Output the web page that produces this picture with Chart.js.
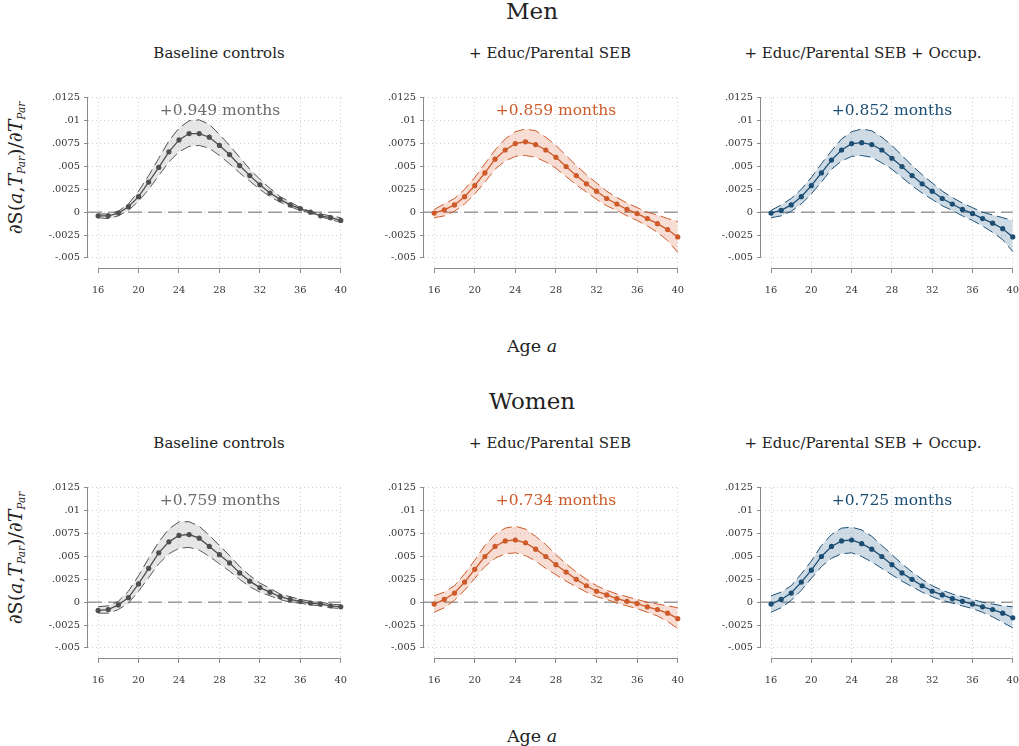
<!DOCTYPE html>
<html>
<head>
<meta charset="utf-8">
<script src="https://cdn.jsdelivr.net/npm/chart.js@4.4.0/dist/chart.umd.min.js"></script>
<style>
body { margin: 0; background: #fff; }
#wrap { position: relative; width: 1019px; height: 746px; overflow: hidden; font-family: "DejaVu Serif", "Liberation Serif", serif; color: #222; }
.t { position: absolute; white-space: nowrap; transform: translate(-50%, -50%); }
.box { position: absolute; }
.ytitle { position: absolute; white-space: nowrap; font-size: 19px; transform: translate(-50%, -50%) rotate(-90deg); }
.ytitle sub { font-size: 10.5px; font-style: italic; vertical-align: -3px; }
</style>
</head>
<body>
<div id="wrap"></div>
<script>
// ages on the x axis
const ages = [16,17,18,19,20,21,22,23,24,25,26,27,28,29,30,31,32,33,34,35,36,37,38,39,40];
const xTicks = [16,20,24,28,32,36,40];
const yTicks = [-0.005,-0.0025,0,0.0025,0.005,0.0075,0.01,0.0125];
const yTickLabels = ['-.005','-.0025','0','.0025','.005','.0075','.01','.0125'];

const rowTitles = ['Men','Women'];
const colTitles = ['Baseline controls','+ Educ/Parental SEB','+ Educ/Parental SEB + Occup.'];
const effects = [['+0.949 months','+0.859 months','+0.852 months'],
                 ['+0.759 months','+0.734 months','+0.725 months']];

// Men
const menBaseMean = [-0.0004,-0.0004,-0.0001,0.0006,0.0017,0.0033,0.0049,0.0066,0.0079,0.0086,0.0086,0.0082,0.0073,0.0063,0.0051,0.0040,0.0030,0.0021,0.0014,0.0008,0.0004,0.0000,-0.0004,-0.0006,-0.0009];
const menBaseHi   = [-0.0002,-0.0002,0.0001,0.0009,0.0023,0.0040,0.0059,0.0078,0.0092,0.0100,0.0101,0.0096,0.0085,0.0073,0.0060,0.0047,0.0036,0.0026,0.0017,0.0011,0.0005,0.0001,-0.0002,-0.0004,-0.0006];
const menBaseLo   = [-0.0006,-0.0007,-0.0004,0.0002,0.0012,0.0025,0.0040,0.0055,0.0066,0.0072,0.0073,0.0070,0.0062,0.0053,0.0043,0.0034,0.0025,0.0017,0.0011,0.0006,0.0002,-0.0001,-0.0005,-0.0008,-0.0011];

const menEducMean = [-0.0001,0.00025,0.0008,0.0017,0.0029,0.0043,0.0058,0.0068,0.0075,0.0077,0.0074,0.0068,0.0060,0.0050,0.0040,0.0031,0.0023,0.0015,0.0009,0.0003,-0.00015,-0.0007,-0.00125,-0.0019,-0.0027];
const menEducHi   = [0.0003,0.0009,0.0015,0.0025,0.0038,0.0053,0.0068,0.0080,0.0088,0.0091,0.0089,0.0082,0.0073,0.0062,0.0051,0.0041,0.0032,0.0023,0.0016,0.0010,0.0005,0.0000,-0.0003,-0.0007,-0.0010];
const menEducLo   = [-0.0006,-0.0004,0.0001,0.0009,0.0020,0.0033,0.0047,0.0056,0.0061,0.0062,0.0060,0.0055,0.0048,0.0039,0.0030,0.0022,0.0014,0.0007,0.0002,-0.0004,-0.0009,-0.0015,-0.0022,-0.0031,-0.0044];

const menOccMean = [-0.0001,0.0002,0.0008,0.0017,0.0029,0.0043,0.0057,0.0068,0.0075,0.0076,0.0074,0.0068,0.0059,0.0050,0.0040,0.0031,0.0023,0.0015,0.0009,0.0003,-0.00015,-0.0007,-0.0012,-0.0018,-0.0027];
const menOccHi   = [0.0002,0.0008,0.0015,0.0025,0.0038,0.0053,0.0067,0.0080,0.0088,0.0091,0.0089,0.0082,0.0073,0.0062,0.0051,0.0041,0.0032,0.0023,0.0016,0.0010,0.0005,0.0000,-0.0003,-0.0006,-0.0009];
const menOccLo   = [-0.0006,-0.0004,0.0001,0.0009,0.0020,0.0033,0.0047,0.0056,0.0061,0.0062,0.0060,0.0054,0.0047,0.0038,0.0029,0.0021,0.0014,0.0007,0.0002,-0.0004,-0.0009,-0.0015,-0.0022,-0.0030,-0.0043];

// Women
const womBaseMean = [-0.0009,-0.0008,-0.0003,0.0005,0.0020,0.0037,0.0054,0.0066,0.0073,0.0074,0.0070,0.0061,0.0052,0.0043,0.0032,0.0023,0.0016,0.0011,0.0006,0.0003,0.0001,-0.0001,-0.0002,-0.0004,-0.0005];
const womBaseHi   = [-0.0005,-0.0004,0.0001,0.0012,0.0029,0.0048,0.0066,0.0080,0.0088,0.0088,0.0083,0.0073,0.0062,0.0051,0.0039,0.0029,0.0021,0.0015,0.0009,0.0006,0.0003,0.0001,0.0000,-0.0002,-0.0003];
const womBaseLo   = [-0.0012,-0.0012,-0.0008,-0.0001,0.0012,0.0027,0.0042,0.0053,0.0059,0.0060,0.0057,0.0050,0.0042,0.0034,0.0025,0.0017,0.0011,0.0007,0.0003,0.0000,-0.0001,-0.0003,-0.0004,-0.0006,-0.0007];

const womEducMean = [-0.0002,0.0003,0.0010,0.0022,0.0036,0.0050,0.0061,0.0067,0.0068,0.0065,0.0058,0.0050,0.0041,0.0033,0.0025,0.0018,0.0012,0.0008,0.0004,0.0001,-0.00015,-0.0005,-0.0008,-0.0012,-0.0018];
const womEducHi   = [0.0007,0.0011,0.0018,0.0031,0.0046,0.0062,0.0074,0.0081,0.0083,0.0080,0.0072,0.0063,0.0052,0.0042,0.0033,0.0025,0.0018,0.0013,0.0009,0.0006,0.0003,0.0000,-0.0002,-0.0004,-0.0006];
const womEducLo   = [-0.0011,-0.0006,0.0002,0.0013,0.0026,0.0039,0.0048,0.0053,0.0054,0.0051,0.0045,0.0037,0.0030,0.0023,0.0017,0.0011,0.0006,0.0003,-0.0001,-0.0004,-0.0007,-0.0011,-0.0015,-0.0021,-0.0029];

const womOccMean = [-0.0002,0.0003,0.0010,0.0022,0.0035,0.0050,0.0061,0.0067,0.0068,0.0064,0.0058,0.0050,0.0041,0.0032,0.0025,0.0018,0.0012,0.0008,0.0004,0.0001,-0.0002,-0.0005,-0.0008,-0.0012,-0.0017];
const womOccHi   = [0.0007,0.0011,0.0018,0.0031,0.0045,0.0062,0.0074,0.0081,0.0082,0.0079,0.0072,0.0062,0.0052,0.0042,0.0033,0.0025,0.0018,0.0013,0.0009,0.0006,0.0003,0.0000,-0.0002,-0.0004,-0.0005];
const womOccLo   = [-0.0011,-0.0006,0.0002,0.0013,0.0026,0.0039,0.0048,0.0053,0.0054,0.0050,0.0044,0.0037,0.0030,0.0023,0.0017,0.0011,0.0006,0.0002,-0.0001,-0.0004,-0.0007,-0.0011,-0.0016,-0.0022,-0.0028];

const panels = [
  [[menBaseMean, menBaseHi, menBaseLo], [menEducMean, menEducHi, menEducLo], [menOccMean, menOccHi, menOccLo]],
  [[womBaseMean, womBaseHi, womBaseLo], [womEducMean, womEducHi, womEducLo], [womOccMean, womOccHi, womOccLo]]
];

const colors = [
  { line: '#4f4f4f', band: 'rgba(165,165,165,0.28)', text: '#6b6b6b' },
  { line: '#cd5a28', band: 'rgba(225,125,85,0.26)', text: '#cd5a28' },
  { line: '#1c4e74', band: 'rgba(65,115,155,0.26)', text: '#1c4e74' }
];

// plot area edges in the page
const plotLeft = [88, 424, 761];
const plotRight = [341, 678, 1013];
const plotTop = [96, 486];
const plotBottom = [268, 658];
const yW = 68, xH = 36, padT = 8, padR = 8;
const xTickPad = 12;
// chart.js keeps room for half the last x label plus its padding on the right
const xFix = xTickPad - 2;

const wrap = document.getElementById('wrap');

function addText(txt, x, y, size, color, html) {
  const d = document.createElement('div');
  d.className = 't';
  d.style.left = x + 'px';
  d.style.top = y + 'px';
  d.style.fontSize = size + 'px';
  d.style.color = color || '#222';
  if (html) d.innerHTML = txt; else d.textContent = txt;
  wrap.appendChild(d);
}

// stata style axis lines + zero reference line
const stataLines = {
  id: 'stataLines',
  beforeDatasetsDraw(chart) {
    const ctx = chart.ctx, a = chart.chartArea, y = chart.scales.y;
    const y0 = y.getPixelForValue(0);
    ctx.save();
    ctx.strokeStyle = '#9a9a9a';
    ctx.lineWidth = 1.6;
    ctx.setLineDash([14, 6]);
    ctx.beginPath();
    ctx.moveTo(a.left, y0);
    ctx.lineTo(a.right, y0);
    ctx.stroke();
    ctx.restore();
  },
  afterDraw(chart) {
    const ctx = chart.ctx, a = chart.chartArea, x = chart.scales.x, y = chart.scales.y;
    ctx.save();
    ctx.strokeStyle = '#8a8a8a';
    ctx.lineWidth = 1;
    ctx.beginPath();
    ctx.moveTo(a.left - 0.5, y.getPixelForValue(yTicks[0]));
    ctx.lineTo(a.left - 0.5, y.getPixelForValue(yTicks[yTicks.length - 1]));
    ctx.moveTo(x.getPixelForValue(xTicks[0]), a.bottom + 0.5);
    ctx.lineTo(x.getPixelForValue(xTicks[xTicks.length - 1]), a.bottom + 0.5);
    ctx.stroke();
    ctx.restore();
  }
};

function pts(arr) {
  return ages.map((a, i) => ({ x: a, y: arr[i] }));
}

function makeChart(r, c) {
  const L = plotLeft[c] - yW;
  const T = plotTop[r] - padT;
  const W = plotRight[c] - L + padR + xFix;
  const H = plotBottom[r] - T + xH;
  const box = document.createElement('div');
  box.className = 'box';
  box.style.left = L + 'px';
  box.style.top = T + 'px';
  box.style.width = W + 'px';
  box.style.height = H + 'px';
  const cv = document.createElement('canvas');
  cv.width = W;
  cv.height = H;
  box.appendChild(cv);
  wrap.appendChild(box);

  const d = panels[r][c];
  const col = colors[c];
  const tickFont = { family: '"DejaVu Serif", serif', size: 9.8 };

  new Chart(cv, {
    type: 'line',
    data: {
      datasets: [
        { data: pts(d[0]), borderColor: col.line, backgroundColor: col.line, borderWidth: 1.3,
          pointRadius: 2.6, pointBorderWidth: 0, pointBackgroundColor: col.line, fill: false, tension: 0, clip: false },
        { data: pts(d[1]), borderColor: col.line, borderWidth: 1, borderDash: [11, 5], pointRadius: 0,
          fill: '+1', backgroundColor: col.band, tension: 0, clip: false },
        { data: pts(d[2]), borderColor: col.line, borderWidth: 1, borderDash: [11, 5], pointRadius: 0,
          fill: false, tension: 0, clip: false }
      ]
    },
    options: {
      responsive: false,
      animation: false,
      events: [],
      layout: { padding: { left: 0, right: padR, top: padT, bottom: 0 } },
      plugins: { legend: { display: false }, tooltip: { enabled: false } },
      scales: {
        x: {
          type: 'linear', min: 15, max: 40,
          afterBuildTicks: s => { s.ticks = xTicks.map(v => ({ value: v })); },
          afterFit: s => { s.height = xH; },
          grid: { color: '#cfcfcf', lineWidth: 1, drawTicks: true, tickLength: 5, tickColor: '#8a8a8a', tickBorderDash: [] },
          border: { display: false, dash: [1, 3] },
          ticks: { font: tickFont, color: '#333', padding: xTickPad, maxRotation: 0, callback: v => String(v) }
        },
        y: {
          type: 'linear', min: -0.0061, max: 0.0125,
          afterBuildTicks: s => { s.ticks = yTicks.map(v => ({ value: v })); },
          afterFit: s => { s.width = yW; },
          grid: { color: '#cfcfcf', lineWidth: 1, drawTicks: true, tickLength: 4, tickColor: '#8a8a8a', tickBorderDash: [] },
          border: { display: false, dash: [1, 3] },
          ticks: { font: tickFont, color: '#333', padding: 4,
            callback: (v, i) => yTickLabels[i] }
        }
      }
    },
    plugins: [stataLines]
  });
}

for (let r = 0; r < 2; r++) {
  const off = r * 390;
  addText(rowTitles[r], 532, 11 + off, 23);
  addText('Age <i>a</i>', 532, 346 + off, 17.5, '#222', true);
  const yt = document.createElement('div');
  yt.className = 'ytitle';
  yt.style.left = '15px';
  yt.style.top = (168 + off) + 'px';
  yt.innerHTML = '∂S(<i>a</i>,<i>T</i><sub>Par</sub>)/∂<i>T</i><sub>Par</sub>';
  wrap.appendChild(yt);
  for (let c = 0; c < 3; c++) {
    const cx = [219, 550, 863][c];
    addText(colTitles[c], cx, 53 + off, 15);
    makeChart(r, c);
    addText(effects[r][c], [220, 556, 892][c], 110 + off, 15.5, colors[c].text);
  }
}
</script>
</body>
</html>
